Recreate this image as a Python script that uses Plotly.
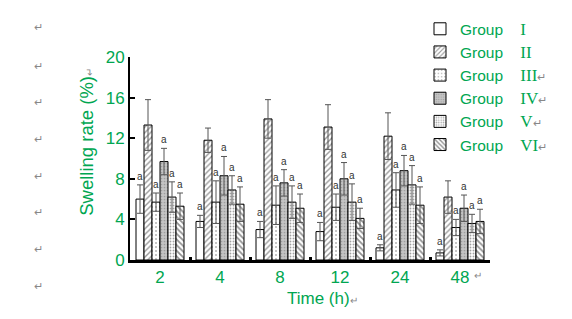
import plotly.graph_objects as go

times = ["2", "4", "8", "12", "24", "48"]
numerals = ["I", "II", "III", "IV", "V", "VI"]
legend_marks = ["", "", "↵", "↵", "↵", "↵"]

g1 = [6.0, 3.8, 3.0, 2.8, 1.2, 0.7]
g2 = [13.3, 11.8, 13.9, 13.1, 12.2, 6.2]
g3 = [5.7, 5.7, 5.4, 5.2, 6.9, 3.2]
g4 = [9.7, 8.3, 7.6, 8.0, 8.8, 5.1]
g5 = [6.2, 6.9, 5.7, 5.7, 7.4, 3.6]
g6 = [5.3, 5.5, 5.1, 4.1, 5.4, 3.8]

e1 = [1.4, 0.6, 0.8, 0.9, 0.3, 0.3]
e2 = [2.5, 1.2, 1.9, 2.2, 2.3, 1.6]
e3 = [0.9, 2.1, 1.9, 1.3, 1.7, 0.8]
e4 = [1.3, 1.9, 1.3, 1.6, 1.5, 1.3]
e5 = [1.5, 1.4, 1.6, 1.8, 1.9, 0.9]
e6 = [1.3, 1.7, 1.4, 1.0, 1.8, 1.2]

sig_labels = ["a", "", "a", "a", "a", "a"]

values = [g1, g2, g3, g4, g5, g6]
errors = [e1, e2, e3, e4, e5, e6]

GREEN = "#00a651"
MARK = "#888888"
mark_span = "<span style='color:" + MARK + ";font-size:10px'>↵</span>"
patterns = [
    dict(shape="", bgcolor="white"),
    dict(shape="/", bgcolor="white", fgcolor="#333333", size=4, solidity=0.35),
    dict(shape=".", bgcolor="white", fgcolor="#666666", size=4, solidity=0.2),
    dict(shape=".", bgcolor="#c4c4c4", fgcolor="#777777", size=3, solidity=0.25),
    dict(shape=".", bgcolor="white", fgcolor="#444444", size=3, solidity=0.3),
    dict(shape="\\", bgcolor="white", fgcolor="#222222", size=4, solidity=0.45),
]

fig = go.Figure()
for j in range(6):
    name = ("Group&nbsp;&nbsp;&nbsp;&nbsp;<span style='font-family:Liberation Serif;font-size:17px'>"
            + numerals[j] + "</span>"
            + ("<span style='color:" + MARK + ";font-size:11px'>" + legend_marks[j] + "</span>"
               if legend_marks[j] else ""))
    fig.add_trace(go.Bar(
        x=times, y=values[j], name=name,
        marker=dict(color="white", line=dict(color="black", width=1), pattern=patterns[j]),
        error_y=dict(type="data", array=errors[j], visible=True, color="#555555",
                     thickness=1, width=3),
    ))

n = len(values)
bargap = 0.2
bw = (1 - bargap) / n
for j in range(n):
    if not sig_labels[j]:
        continue
    for i in range(len(times)):
        fig.add_annotation(
            x=i - (1 - bargap) / 2 + bw * (j + 0.5), y=values[j][i] + errors[j][i],
            xref="x", yref="y", text=sig_labels[j], showarrow=False,
            xanchor="center", yanchor="bottom", yshift=1,
            font=dict(size=10, color="#333333", family="Liberation Sans, Arial"),
        )

# plot area in pixels: left 130, right 490, top 47, bottom 260
def px(x):
    return (x - 130) / 360


def py(y):
    return (260 - y) / 213


# Word paragraph marks
for yy in [16, 56, 94, 133, 172, 210, 248, 287]:
    fig.add_annotation(x=px(38), y=py(yy), xref="paper", yref="paper", text="↵",
                       xanchor="center", yanchor="middle",
                       showarrow=False, font=dict(size=11, color=MARK))

fig.add_annotation(x=px(87), y=py(136), xref="paper", yref="paper",
                   text="Swelling rate (%)" + mark_span,
                   textangle=-90, showarrow=False, xanchor="center", yanchor="middle",
                   font=dict(size=18.5, color=GREEN, family="Liberation Sans, Arial"))
fig.add_annotation(x=px(322), y=py(300), xref="paper", yref="paper",
                   text="Time (h)" + mark_span,
                   showarrow=False, xanchor="center", yanchor="middle",
                   font=dict(size=17, color=GREEN, family="Liberation Sans, Arial"))
fig.add_annotation(x=px(478), y=py(276), xref="paper", yref="paper",
                   text="↵", showarrow=False, xanchor="center", yanchor="middle",
                   font=dict(size=10, color=MARK))

fig.update_layout(
    width=572, height=319,
    margin=dict(l=130, r=82, t=47, b=59),
    paper_bgcolor="white", plot_bgcolor="white",
    barmode="group", bargap=bargap, bargroupgap=0,
    font=dict(family="Liberation Sans, Arial", color=GREEN, size=16),
    xaxis=dict(
        type="category", showline=True, linecolor="black", linewidth=3,
        ticks="inside", tickson="boundaries", ticklen=3, tickwidth=3, tickcolor="black",
        tickfont=dict(size=17, color=GREEN), showgrid=False, zeroline=False,
    ),
    yaxis=dict(
        range=[0, 20], tickvals=[0, 4, 8, 12, 16, 20], showline=True, linecolor="black",
        linewidth=2, ticks="inside", ticklen=5, tickwidth=2, tickcolor="black",
        tickfont=dict(size=17, color=GREEN), showgrid=False, zeroline=False,
    ),
    legend=dict(
        x=px(420), y=py(0), xanchor="left", yanchor="top",
        bgcolor="rgba(0,0,0,0)", font=dict(size=15.5, color=GREEN), tracegroupgap=0,
    ),
    showlegend=True,
)

fig.write_html("out.html", config={"displayModeBar": False},
               post_script="document.body.style.margin='0';")
